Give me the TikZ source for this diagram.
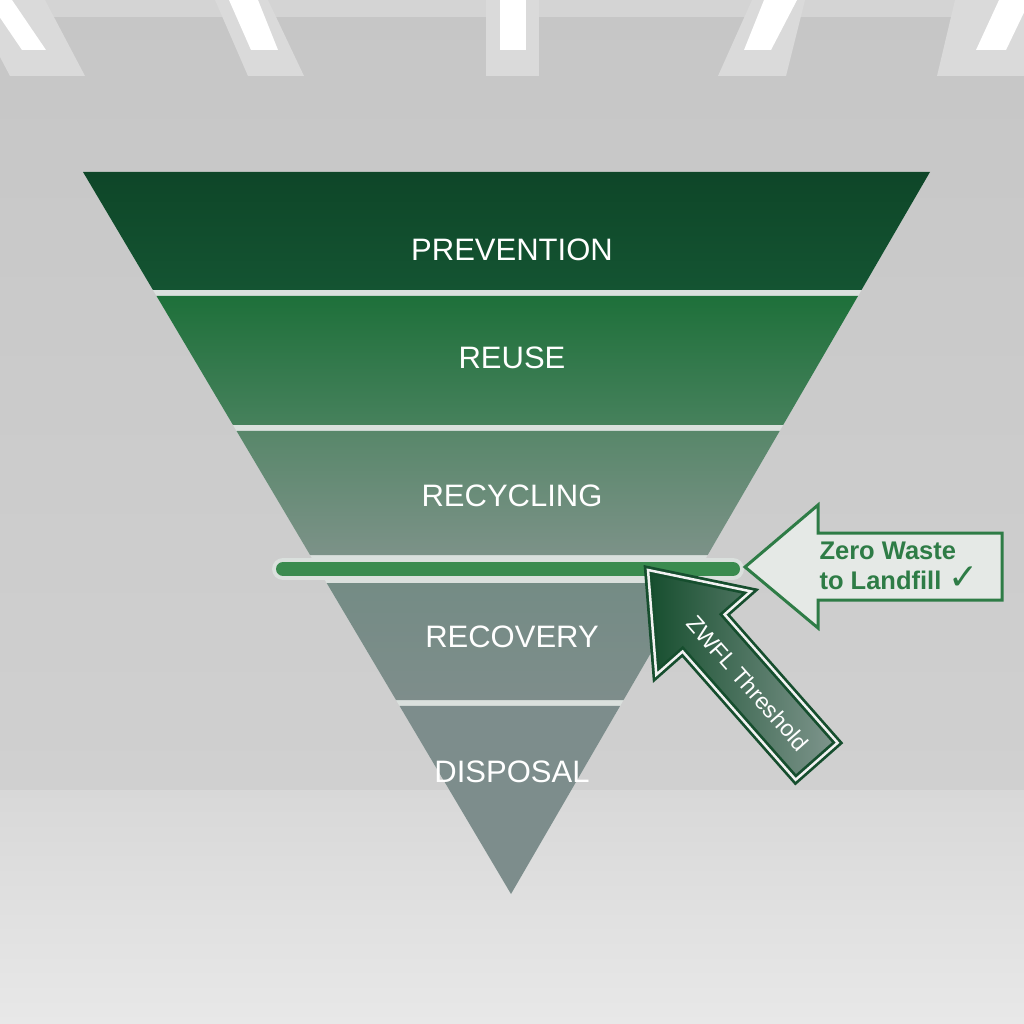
\documentclass[tikz,border=0pt]{standalone}
\usepackage{fontspec}
\setmainfont{Liberation Sans}
\newfontfamily\symfont{DejaVu Sans}
\usetikzlibrary{calc}
\usetikzlibrary{shapes}
\definecolor{wall}{RGB}{198,198,198}
\definecolor{walllow}{RGB}{208,208,208}
\definecolor{floortop}{RGB}{216,216,216}
\definecolor{floorlow}{RGB}{232,232,232}
\definecolor{ceil}{RGB}{212,212,212}
\definecolor{beamgrey}{RGB}{218,218,218}
\definecolor{gap}{RGB}{218,224,221}
\definecolor{zgreen}{RGB}{46,124,70}
\definecolor{barg}{RGB}{58,139,79}
\definecolor{darkg}{RGB}{22,78,46}
\definecolor{tailg}{RGB}{128,150,142}
\definecolor{paleg}{RGB}{229,233,230}
\definecolor{prevtop}{RGB}{14,70,40}
\definecolor{prevbot}{RGB}{20,84,50}
\definecolor{reusetop}{RGB}{30,112,58}
\definecolor{reusebot}{RGB}{70,129,92}
\definecolor{recyctop}{RGB}{88,135,106}
\definecolor{recycbot}{RGB}{124,146,136}
\definecolor{recovtop}{RGB}{116,140,133}
\definecolor{recovbot}{RGB}{126,141,139}
\definecolor{disp}{RGB}{125,141,140}
\newcommand{\band}[4]{\shade[top color=#3, bottom color=#4] ($(TL)!#1!(AP)$) -- ($(TR)!#1!(AP)$) -- ($(TR)!#2!(AP)$) -- ($(TL)!#2!(AP)$) -- cycle;}
\newcommand{\beam}[4]{\fill[beamgrey] (#1,0) -- (#2,0) -- (#3,76) -- (#4,76) -- cycle;}
\newcommand{\lamp}[4]{\fill[white] (#1,0) -- (#2,0) -- (#3,50) -- (#4,50) -- cycle;}
\tikzset{
  lbl/.style={text=white, font=\fontsize{31}{31}\selectfont},
  zwtext/.style={text=zgreen, font=\bfseries\fontsize{25.5}{30}\selectfont, align=left, anchor=west},
  thrtext/.style={text=white, font=\fontsize{23}{23}\selectfont}
}
\begin{document}
\begin{tikzpicture}[x=1pt, y=-1pt]
        \useasboundingbox (0,0) rectangle (1024,1024);
        \clip (0,0) rectangle (1024,1024);
        % wall and floor
        \shade[top color=wall, bottom color=walllow] (0,0) rectangle (1024,790);
        \shade[top color=floortop, bottom color=floorlow] (0,790) rectangle (1024,1024);
        % ceiling
        \fill[ceil] (0,0) rectangle (1024,17);
        \beam{-30}{45}{85}{10}
        \beam{215}{268}{304}{248}
        \beam{486}{539}{539}{486}
        \beam{752}{805}{786}{718}
        \beam{955}{1040}{1024}{937}
        \lamp{-12}{12}{46}{22}
        \lamp{229}{258}{278}{251}
        \lamp{500}{526}{526}{500}
        \lamp{764}{797}{771}{744}
        \lamp{999}{1030}{1006}{976}

        % pyramid
        \coordinate (TL) at (83,172);
        \coordinate (TR) at (930,172);
        \coordinate (AP) at (511,894);
        \fill[gap] (TL) -- (TR) -- (AP) -- cycle;
        \band{0}{0.1634}{prevtop}{prevbot}
        \band{0.1717}{0.3504}{reusetop}{reusebot}
        \band{0.3587}{0.5305}{recyctop}{recycbot}
        \band{0.5693}{0.7313}{recovtop}{recovbot}
        \band{0.7396}{1}{disp}{disp}

        % labels
        \node[lbl] (prev) at (512,250) {PREVENTION};
        \node[lbl] (reuse) at (512,358) {REUSE};
        \node[lbl] (recyc) at (512,496) {RECYCLING};
        \node[lbl] (recov) at (512,637) {RECOVERY};
        \node[lbl] (dispo) at (512,772) {DISPOSAL};

        % threshold bar
        \coordinate (barL) at (283,569);
        \coordinate (barR) at (733,569);
        \draw[gap, line width=22, line cap=round] (barL) -- (barR);
        \draw[barg, line width=14, line cap=round] (barL) -- (barR);

        % diagonal arrow
        \begin{scope}[shift={(648,570)}, rotate=-48.6]
        \shade[left color=darkg, right color=tailg] (0,0) -- (84,63) -- (84,28) -- (255,28) -- (255,-28) -- (84,-28) -- (84,-63) -- cycle;
        \draw[darkg, line width=8, line join=miter] (0,0) -- (84,63) -- (84,28) -- (255,28) -- (255,-28) -- (84,-28) -- (84,-63) -- cycle;
        \draw[white!90!gray, line width=2.5, line join=miter] (0,0) -- (84,63) -- (84,28) -- (255,28) -- (255,-28) -- (84,-28) -- (84,-63) -- cycle;
        \node[thrtext, transform shape] (thr) at (151,0) {ZWFL Threshold};
        \end{scope}

        % side arrow
        \filldraw[fill=paleg, draw=zgreen, line width=3] (745,567) -- (818,505) -- (818,533) -- (1002,533) -- (1002,600) -- (818,600) -- (818,628) -- cycle;
        \node[zwtext] (zw) at (816,566) {Zero Waste\\to Landfill {\symfont\fontsize{36}{30}\selectfont ✓}};
    \end{tikzpicture}
\end{document}
